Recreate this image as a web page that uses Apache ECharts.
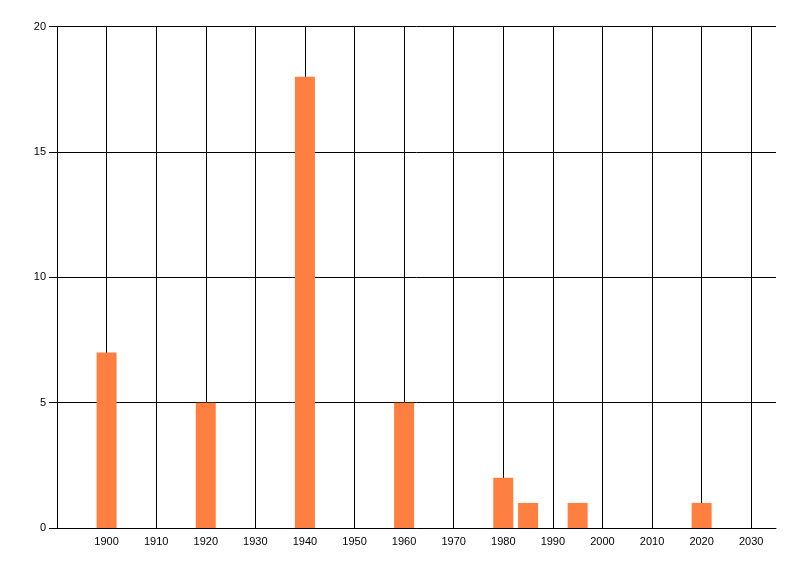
<!DOCTYPE html>
<html>
<head>
<meta charset="utf-8">
<script src="https://cdn.jsdelivr.net/npm/echarts@6/dist/echarts.min.js"></script>
<style>html,body{margin:0;padding:0;background:#fff}#c{width:800px;height:576px}</style>
</head>
<body>
<div id="c"></div>
<script>
const years = [1900, 1920, 1940, 1960, 1980, 1985, 1995, 2020];
const counts = [7, 5, 18, 5, 2, 1, 1, 1];
const xMin = 1890, xMax = 2035, xInterval = 10;
const yMin = 0, yMax = 20, yInterval = 5;

const chart = echarts.init(document.getElementById('c'), null, {renderer: 'canvas'});
const font = {fontFamily: 'Liberation Sans', fontSize: 11, color: '#000'};
chart.setOption({
  animation: false,
  grid: {left: 57, right: 24, top: 26.5, bottom: 48},
  xAxis: {
    type: 'value', min: xMin, max: xMax, interval: xInterval,
    axisLine: {show: true, lineStyle: {color: '#000', width: 1}},
    axisTick: {show: false},
    axisLabel: Object.assign({}, font, {margin: 8, showMaxLabel: false, showMinLabel: false,
      formatter: v => (v % 10 === 0 && v > xMin) ? String(v) : ''}),
    splitLine: {show: true, showMaxLine: false, lineStyle: {color: '#000', width: 1}}
  },
  yAxis: {
    type: 'value', min: yMin, max: yMax, interval: yInterval,
    axisLine: {show: true, lineStyle: {color: '#000', width: 1}},
    axisTick: {show: true, length: 8, lineStyle: {color: '#000'}},
    axisLabel: Object.assign({}, font, {margin: 11}),
    splitLine: {show: true, lineStyle: {color: '#000', width: 1}}
  },
  series: [{
    type: 'bar',
    barWidth: 20,
    itemStyle: {color: '#FF7F40'},
    data: years.map((y, i) => [y, counts[i]])
  }]
});
</script>
</body>
</html>
